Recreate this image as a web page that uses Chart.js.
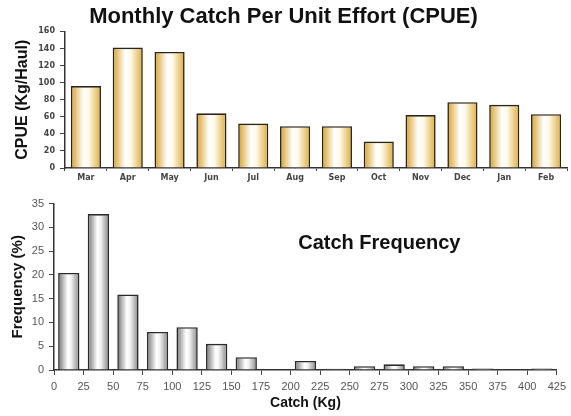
<!DOCTYPE html>
<html>
<head>
<meta charset="utf-8">
<script src="https://cdn.jsdelivr.net/npm/chart.js@4"></script>
<style>
  body { margin: 0; background: #fff; }
  #wrap { position: relative; width: 571px; height: 416px; }
  #top { position: absolute; left: 0; top: 0; width: 571px; height: 192px; }
  #bottom { position: absolute; left: 0; top: 192px; width: 571px; height: 224px; }
</style>
</head>
<body>
<div id="wrap">
  <div id="top"><canvas id="cpue"></canvas></div>
  <div id="bottom"><canvas id="freq"></canvas></div>
</div>
<script>
// monthly CPUE
const months = ["Mar","Apr","May","Jun","Jul","Aug","Sep","Oct","Nov","Dec","Jan","Feb"];
const cpue = [96, 141, 136, 64, 52, 49, 49, 31, 62, 77, 74, 63];

// catch frequency, bins of 25 kg
const binStart = [0,25,50,75,100,125,150,175,200,225,250,275,300,325,350,375,400];
const freqPct = [20.4, 32.8, 15.9, 8.0, 9.0, 5.5, 2.7, 0, 1.9, 0.25, 0.8, 1.2, 0.8, 0.8, 0.3, 0, 0.3];
const binWidth = 25;

Chart.defaults.font.family = "'Liberation Sans', Arial, sans-serif";
Chart.defaults.animation = false;

function barGradient(ctx, stops, fallback) {
  const chart = ctx.chart;
  if (!chart.chartArea || ctx.type !== "data") return fallback;
  const xs = chart.scales.x;
  let cx, w;
  if (xs.type === "category") {
    cx = xs.getPixelForValue(ctx.dataIndex);
    w = (xs.width / months.length) * 0.72;
  } else {
    cx = xs.getPixelForValue(ctx.raw.x);
    w = (xs.getPixelForValue(binWidth) - xs.getPixelForValue(0)) * 0.72;
  }
  const g = chart.ctx.createLinearGradient(cx - w / 2, 0, cx + w / 2, 0);
  stops.forEach(s => g.addColorStop(s[0], s[1]));
  return g;
}

const goldStops = [[0, "#d6a028"], [0.42, "#ffffff"], [0.6, "#fff9e6"], [1, "#dcab3c"]];
const grayStops = [[0, "#737373"], [0.45, "#ffffff"], [0.6, "#f4f4f4"], [1, "#858585"]];

new Chart(document.getElementById("cpue"), {
  type: "bar",
  data: {
    labels: months,
    datasets: [{
      data: cpue,
      backgroundColor: c => barGradient(c, goldStops, "#f0d080"),
      borderColor: "#2b2418",
      borderWidth: 1.6,
      borderSkipped: "bottom",
      barPercentage: 0.9,
      categoryPercentage: 0.8
    }]
  },
  options: {
    responsive: true,
    maintainAspectRatio: false,
    layout: { padding: { left: 0, right: 4, top: 0, bottom: 0 } },
    plugins: {
      legend: { display: false },
      tooltip: { enabled: false },
      title: {
        display: true,
        text: "Monthly Catch Per Unit Effort (CPUE)",
        color: "#111",
        font: { size: 22, weight: "bold" },
        padding: { top: 4, bottom: 1 }
      }
    },
    scales: {
      x: {
        offset: true,
        grid: { offset: true, drawOnChartArea: false, tickLength: 3, color: "#444" },
        border: { color: "#333", width: 1.5 },
        ticks: { color: "#444", font: { family: "'DejaVu Sans'", size: 8, weight: "bold" }, padding: 2 },
        afterFit: s => { s.height = 24; }
      },
      y: {
        min: 0,
        max: 160,
        grid: { drawOnChartArea: false, tickLength: 5, color: "#444" },
        border: { color: "#333", width: 1.5 },
        ticks: { stepSize: 20, color: "#444", font: { family: "'DejaVu Sans'", size: 8, weight: "bold" }, padding: 5 },
        title: {
          display: true,
          text: "CPUE (Kg/Haul)",
          color: "#111",
          font: { size: 16, weight: "bold" },
          padding: { top: 13, bottom: 0 }
        },
        afterFit: s => { s.width = 65; }
      }
    }
  }
});

const catchLabel = {
  id: "catchLabel",
  afterDraw(chart) {
    const ctx = chart.ctx;
    ctx.save();
    ctx.font = "bold 20px 'Liberation Sans', Arial, sans-serif";
    ctx.fillStyle = "#111";
    ctx.textAlign = "center";
    ctx.textBaseline = "middle";
    ctx.fillText("Catch Frequency", chart.scales.x.getPixelForValue(275), chart.scales.y.getPixelForValue(26.6));
    ctx.restore();
  }
};

new Chart(document.getElementById("freq"), {
  type: "bar",
  data: {
    datasets: [{
      data: binStart.map((b, i) => ({ x: b + binWidth / 2, y: freqPct[i] })),
      backgroundColor: c => barGradient(c, grayStops, "#dddddd"),
      borderColor: "#2a2a2a",
      borderWidth: 1.6,
      borderSkipped: "bottom",
      barPercentage: 0.9,
      categoryPercentage: 0.8
    }]
  },
  plugins: [catchLabel],
  options: {
    responsive: true,
    maintainAspectRatio: false,
    layout: { padding: { left: 0, right: 9, top: 6, bottom: 0 } },
    plugins: {
      legend: { display: false },
      tooltip: { enabled: false }
    },
    scales: {
      x: {
        type: "linear",
        offset: false,
        min: 0,
        max: 425,
        grid: { offset: false, drawOnChartArea: false, tickLength: 5, color: "#444" },
        border: { color: "#333", width: 1.5 },
        ticks: { stepSize: 25, color: "#555", font: { size: 11 }, padding: 5, maxRotation: 0, autoSkip: false },
        title: {
          display: true,
          text: "Catch (Kg)",
          color: "#111",
          font: { size: 14, weight: "bold" },
          padding: { top: 0, bottom: 4 }
        },
        afterFit: s => { s.height = 46; }
      },
      y: {
        min: 0,
        max: 35,
        grid: { drawOnChartArea: false, tickLength: 5, color: "#444" },
        border: { color: "#333", width: 1.5 },
        ticks: { stepSize: 5, color: "#555", font: { size: 11 }, padding: 5 },
        title: {
          display: true,
          text: "Frequency (%)",
          color: "#111",
          font: { size: 15, weight: "bold" },
          padding: { top: 9, bottom: 0 }
        },
        afterFit: s => { s.width = 54; }
      }
    }
  }
});
</script>
</body>
</html>
